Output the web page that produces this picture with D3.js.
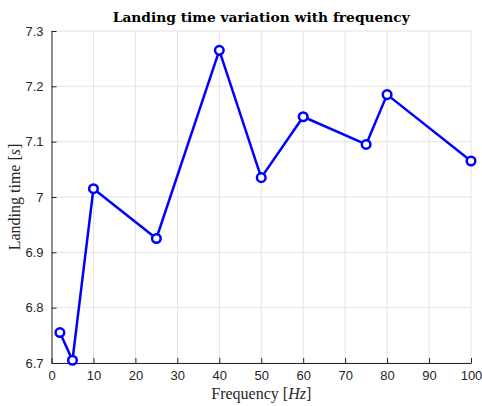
<!DOCTYPE html>
<html>
<head>
    <title>Landing time variation with frequency</title>
    <script src="https://d3js.org/d3.v7.min.js"></script>
    <style>
        body { margin: 0; background: #fff; }
        .title { font-family: "DejaVu Serif", "Liberation Serif", serif; font-weight: bold; font-size: 13.8px; fill: #000; }
        .axis-label { font-family: "Liberation Serif", "DejaVu Serif", serif; font-size: 16px; fill: #262626; }
    </style>
</head>
<body>
    <div id="chart"></div>
    <script>
        // Data
        const frequency = [2, 5, 10, 25, 40, 50, 60, 75, 80, 100];
        const landingTime = [6.755, 6.705, 7.015, 6.925, 7.265, 7.035, 7.145, 7.095, 7.185, 7.065];
        const xTicks = [0, 10, 20, 30, 40, 50, 60, 70, 80, 90, 100];
        const yTicks = [6.7, 6.8, 6.9, 7, 7.1, 7.2, 7.3];

        const W = 482, H = 406;
        const margin = {top: 31, right: 11, bottom: 43, left: 51.5};

        const svg = d3.select("#chart")
            .append("svg")
            .attr("width", W)
            .attr("height", H);

        const x = d3.scaleLinear().domain([0, 100]).range([margin.left, W - margin.right]);
        const y = d3.scaleLinear().domain([6.7, 7.3]).range([H - margin.bottom, margin.top]);

        // grid
        const grid = svg.append("g").attr("stroke", "#e3e3e3").attr("stroke-width", 1);
        grid.selectAll(".gx").data(xTicks).join("line")
            .attr("x1", d => x(d)).attr("x2", d => x(d))
            .attr("y1", y(6.7)).attr("y2", y(7.3));
        grid.selectAll(".gy").data(yTicks).join("line")
            .attr("y1", d => y(d)).attr("y2", d => y(d))
            .attr("x1", x(0)).attr("x2", x(100));

        // axes (ticks inside)
        const xAxis = svg.append("g")
            .attr("transform", `translate(0,${y(6.7)})`)
            .call(d3.axisBottom(x).tickValues(xTicks).tickSizeInner(-5).tickSizeOuter(0).tickPadding(8));
        const yAxis = svg.append("g")
            .attr("transform", `translate(${x(0)},0)`)
            .call(d3.axisLeft(y).tickValues(yTicks).tickFormat(d3.format("~g")).tickSizeInner(-5).tickSizeOuter(0).tickPadding(8));
        [xAxis, yAxis].forEach(a => {
            a.attr("font-family", "'Liberation Sans', Arial, sans-serif").attr("font-size", 13);
            a.select(".domain").attr("stroke", "#262626");
            a.selectAll(".tick line").attr("stroke", "#262626");
            a.selectAll(".tick text").attr("fill", "#262626");
        });

        // line
        const pts = frequency.map((f, i) => [f, landingTime[i]]);
        svg.append("path")
            .datum(pts)
            .attr("fill", "none")
            .attr("stroke", "#0000ff")
            .attr("stroke-width", 2.5)
            .attr("stroke-linejoin", "round")
            .attr("d", d3.line().x(d => x(d[0])).y(d => y(d[1])));

        svg.append("g").selectAll("circle")
            .data(pts)
            .join("circle")
            .attr("cx", d => x(d[0]))
            .attr("cy", d => y(d[1]))
            .attr("r", 4.3)
            .attr("fill", "#fff")
            .attr("stroke", "#0000ff")
            .attr("stroke-width", 2.5);

        // title and labels
        svg.append("text")
            .attr("class", "title")
            .attr("x", (x(0) + x(100)) / 2)
            .attr("y", 22)
            .attr("text-anchor", "middle")
            .text("Landing time variation with frequency");

        const xl = svg.append("text")
            .attr("class", "axis-label")
            .attr("x", (x(0) + x(100)) / 2)
            .attr("y", 399)
            .attr("text-anchor", "middle");
        xl.append("tspan").text("Frequency [");
        xl.append("tspan").attr("font-style", "italic").text("Hz");
        xl.append("tspan").text("]");

        const yl = svg.append("text")
            .attr("class", "axis-label")
            .attr("transform", `translate(20,${(y(6.7) + y(7.3)) / 2}) rotate(-90)`)
            .attr("text-anchor", "middle");
        yl.append("tspan").text("Landing time [");
        yl.append("tspan").attr("font-style", "italic").text("s");
        yl.append("tspan").text("]");
    </script>
</body>
</html>
